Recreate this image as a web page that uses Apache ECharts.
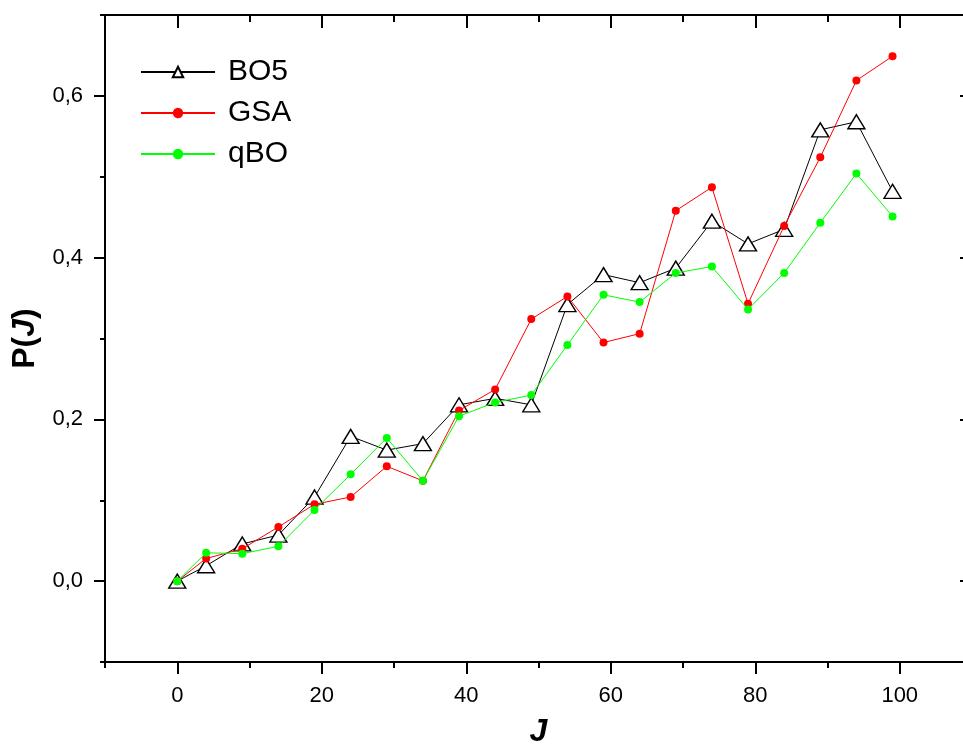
<!DOCTYPE html>
<html>
<head>
<meta charset="utf-8">
<script src="https://cdn.jsdelivr.net/npm/echarts@6/dist/echarts.min.js"></script>
<style>
html,body{margin:0;padding:0;background:#fff;}
#chart{width:963px;height:744px;}
</style>
</head>
<body>
<div id="chart"></div>
<script>
const J = [0,4,9,14,19,24,29,34,39,44,49,54,59,64,69,74,79,84,89,94,99];
const BO5 = [0.0,0.019,0.046,0.057,0.104,0.179,0.162,0.170,0.218,0.226,0.218,0.342,0.379,0.369,0.387,0.445,0.417,0.435,0.558,0.568,0.482];
const GSA = [0.0,0.028,0.040,0.067,0.095,0.104,0.142,0.124,0.211,0.237,0.324,0.352,0.295,0.306,0.458,0.487,0.343,0.439,0.524,0.619,0.649];
const qBO = [0.0,0.035,0.034,0.043,0.088,0.132,0.177,0.124,0.204,0.221,0.230,0.292,0.354,0.345,0.381,0.389,0.336,0.381,0.443,0.504,0.451];
const xMajor = [0,20,40,60,80,100];
const xMinor = [-10,10,30,50,70,90,110];
const yMajor = [0,0.2,0.4,0.6];
const yMinor = [-0.1,0.1,0.3,0.5,0.7];
const seriesNames = ['BO5','GSA','qBO'];

const FONT = "'Liberation Sans', Arial, sans-serif";
const chart = echarts.init(document.getElementById('chart'), null, {renderer:'canvas'});
const pair = ys => J.map((x,i)=>[x, ys[i]]);
const axLine = {show:true, onZero:false, lineStyle:{color:'#000', width:2}};
const noLine = {show:false, onZero:false};
const X_MIN=-10, X_MAX=110, Y_MIN=-0.1, Y_MAX=0.7;

const xBase = {type:'value', min:X_MIN, max:X_MAX, splitLine:{show:false}};
const yBase = {type:'value', min:Y_MIN, max:Y_MAX, splitLine:{show:false}};
const tk = (inside, length, vals) => ({show:true, inside:inside, length:length, customValues:vals, lineStyle:{width:2,color:'#000'}});

const option = {
  animation:false,
  backgroundColor:'#fff',
  grid:{left:105, right:-9, top:15, bottom:82, containLabel:false, outerBoundsMode:'none'},
  legend:{
    orient:'vertical', left:140, top:57, padding:0,
    itemWidth:74, itemHeight:13, itemGap:11,
    data:seriesNames,
    textStyle:{fontSize:30, color:'#000', fontFamily:FONT, lineHeight:30, padding:[0,0,0,8]}
  },
  xAxis:[
    Object.assign({}, xBase, {position:'bottom', axisLine:axLine,
      axisTick:tk(false,12,xMajor),
      axisLabel:{show:true, customValues:xMajor, margin:23, fontSize:22, color:'#000', fontFamily:FONT, formatter:v=>String(Math.round(v))},
      name:'J', nameLocation:'middle', nameGap:54,
      nameTextStyle:{fontSize:32, fontWeight:'bold', fontStyle:'italic', color:'#000', fontFamily:FONT}
    }),
    Object.assign({}, xBase, {position:'bottom', axisLine:noLine, axisTick:tk(false,6,xMinor), axisLabel:{show:false}}),
    Object.assign({}, xBase, {position:'top', axisLine:axLine, axisTick:tk(true,13,xMajor), axisLabel:{show:false}}),
    Object.assign({}, xBase, {position:'top', axisLine:noLine, axisTick:tk(true,7,xMinor), axisLabel:{show:false}})
  ],
  yAxis:[
    Object.assign({}, yBase, {position:'left', axisLine:axLine,
      axisTick:tk(false,11,yMajor),
      axisLabel:{show:true, customValues:yMajor, margin:22, fontSize:22, color:'#000', fontFamily:FONT, formatter:v=>v.toFixed(1).replace('.',',')},
      name:'{n|P(}{i|J}{n|)}', nameLocation:'middle', nameGap:64, nameRotate:90,
      nameTextStyle:{fontSize:32, color:'#000', fontFamily:FONT,
        rich:{n:{fontSize:32, fontWeight:'bold', fontFamily:FONT, color:'#000'}, i:{fontSize:32, fontWeight:'bold', fontStyle:'italic', fontFamily:FONT, color:'#000'}}}
    }),
    Object.assign({}, yBase, {position:'left', axisLine:noLine, axisTick:tk(false,5,yMinor), axisLabel:{show:false}}),
    Object.assign({}, yBase, {position:'right', axisLine:axLine, axisTick:tk(true,12,yMajor), axisLabel:{show:false}}),
    Object.assign({}, yBase, {position:'right', axisLine:noLine, axisTick:tk(true,7,yMinor), axisLabel:{show:false}})
  ],
  series:[
    {name:'BO5', type:'line', xAxisIndex:0, yAxisIndex:0, data:pair(BO5), z:2,
      symbol:'triangle', symbolSize:[17,14],
      itemStyle:{color:'#fff', borderColor:'#000', borderWidth:1.4},
      lineStyle:{color:'#000', width:1}},
    {name:'GSA', type:'line', xAxisIndex:0, yAxisIndex:0, data:pair(GSA), z:3,
      symbol:'circle', symbolSize:8,
      itemStyle:{color:'#ff0000', borderWidth:0},
      lineStyle:{color:'#ff0000', width:1}},
    {name:'qBO', type:'line', xAxisIndex:0, yAxisIndex:0, data:pair(qBO), z:4,
      symbol:'circle', symbolSize:8,
      itemStyle:{color:'#00ff00', borderWidth:0},
      lineStyle:{color:'#00ff00', width:1}}
  ]
};
chart.setOption(option);
</script>
</body>
</html>
